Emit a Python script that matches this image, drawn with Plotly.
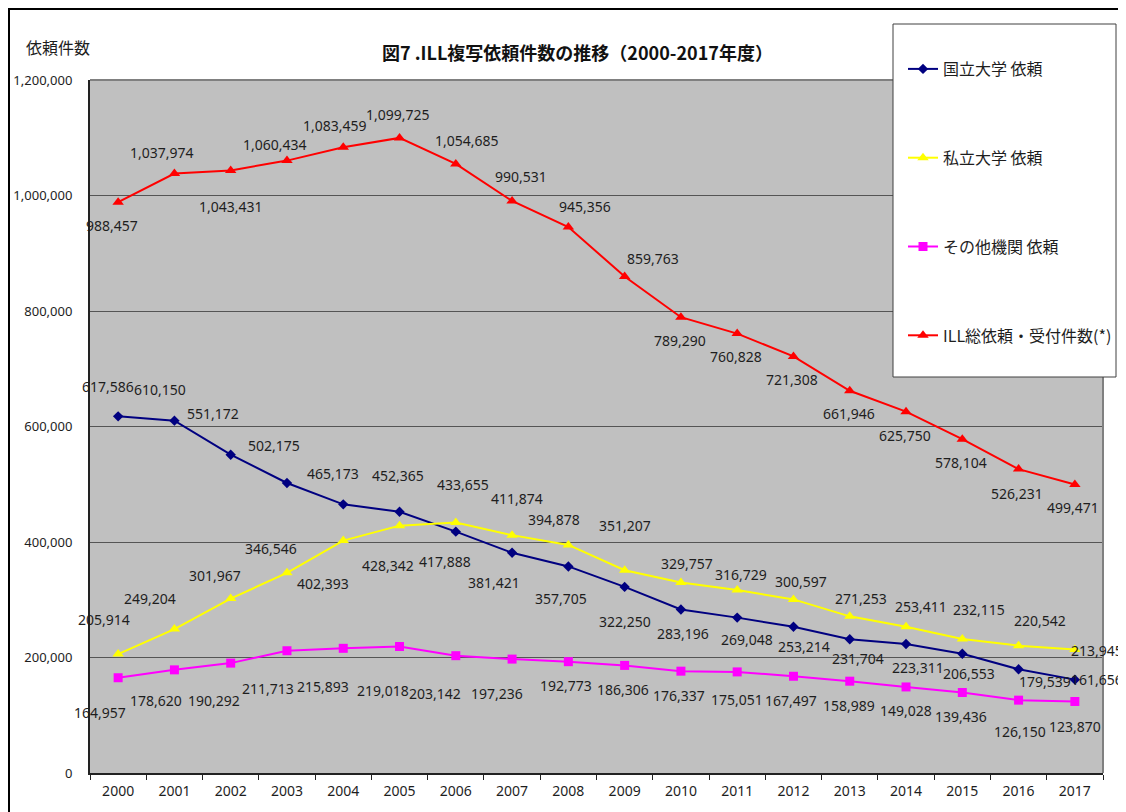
import plotly.graph_objects as go

# ---------------- data ----------------
years = ["2000", "2001", "2002", "2003", "2004", "2005", "2006", "2007", "2008",
         "2009", "2010", "2011", "2012", "2013", "2014", "2015", "2016", "2017"]

national = [617586, 610150, 551172, 502175, 465173, 452365, 417888, 381421, 357705,
            322250, 283196, 269048, 253214, 231704, 223311, 206553, 179539, 161656]
private = [205914, 249204, 301967, 346546, 402393, 428342, 433655, 411874, 394878,
           351207, 329757, 316729, 300597, 271253, 253411, 232115, 220542, 213945]
other = [164957, 178620, 190292, 211713, 215893, 219018, 203142, 197236, 192773,
         186306, 176337, 175051, 167497, 158989, 149028, 139436, 126150, 123870]
total = [988457, 1037974, 1043431, 1060434, 1083459, 1099725, 1054685, 990531, 945356,
         859763, 789290, 760828, 721308, 661946, 625750, 578104, 526231, 499471]

series_names = ["国立大学 依頼", "私立大学 依頼", "その他機関 依頼", "ILL総依頼・受付件数(*)"]

y_ticks = [0, 200000, 400000, 600000, 800000, 1000000, 1200000]

# ---------------- label offsets (pixels: dx right, dy down) ----------------
off_national = [(-10, -30), (-14, -31), (-18, -41), (-13, -37), (-10, -31), (-2, -36),
                (-11, 30), (-18, 30), (-7, 32), (0, 35), (2, 24), (10, 22),
                (11, 20), (8, 19), (12, 23), (7, 20), (26, 12), (22, 0)]
off_private = [(-14, -35), (-24, -31), (-16, -23), (-16, -24), (-20, 43), (-12, 40),
               (7, -38), (5, -37), (-14, -25), (0, -45), (6, -19), (4, -16),
               (8, -18), (11, -18), (15, -20), (17, -29), (21, -25), (22, 1)]
off_other = [(-18, 35), (-18, 31), (-17, 37), (-19, 38), (-20, 38), (-17, 44),
             (-21, 38), (-15, 34), (-2, 24), (-2, 24), (-2, 24), (0, 28),
             (-2, 24), (-1, 24), (0, 24), (-1, 24), (1, 31), (0, 25)]
off_total = [(-6, 23), (-12, -21), (0, 36), (-12, -16), (-8, -22), (-2, -23),
             (11, -23), (9, -24), (17, -21), (28, -18), (-1, 23), (-1, 23),
             (-1, 23), (-1, 23), (-1, 24), (-1, 23), (-2, 24), (-2, 23)]

# ---------------- styles ----------------
NUM_FONT = "Noto Sans, Noto Sans CJK JP, sans-serif"
JP_FONT = "Noto Sans CJK JP, Noto Sans, sans-serif"
TXT = "#1e1e1e"

# plot area in window pixels: x 90..1103, y 80..773 (page body has an 8px margin)
PX_L, PX_R, PX_T, PX_B = 90, 1103, 80, 773
PW, PH = PX_R - PX_L, PX_B - PX_T


def px_x(x):
    return (x - PX_L) / PW


def px_y(y):
    return (PX_B - y) / PH


styles = [
    dict(color="#000080", symbol="diamond", size=8),
    dict(color="#FFFF00", symbol="triangle-up", size=10),
    dict(color="#FF00FF", symbol="square", size=9),
    dict(color="#FF0000", symbol="triangle-up", size=10),
]
all_values = [national, private, other, total]
all_offsets = [off_national, off_private, off_other, off_total]

fig = go.Figure()
for name, vals, st in zip(series_names, all_values, styles):
    fig.add_trace(go.Scatter(
        x=years, y=vals, name=name, mode="lines+markers",
        legendgroup=name,
        line=dict(color=st["color"], width=2),
        marker=dict(color=st["color"], symbol=st["symbol"], size=st["size"],
                    line=dict(width=0)),
        cliponaxis=False,
    ))

annotations = []
for vals, offs in zip(all_values, all_offsets):
    for idx, (v, (dx, dy)) in enumerate(zip(vals, offs)):
        annotations.append(dict(
            x=idx, y=v, xref="x", yref="y", text=f"{v:,}", showarrow=False,
            xanchor="center", yanchor="middle",
            xshift=dx, yshift=-dy, font=dict(family=NUM_FONT, size=14, color=TXT),
        ))

# title and axis caption
annotations.append(dict(
    x=px_x(577), y=px_y(52), xref="paper", yref="paper", showarrow=False,
    xanchor="center", yanchor="middle",
    text="<b>図7 .ILL複写依頼件数の推移（2000-2017年度）</b>",
    font=dict(family=JP_FONT, size=18, color="#111111"),
))
annotations.append(dict(
    x=px_x(58), y=px_y(47), xref="paper", yref="paper", showarrow=False,
    xanchor="center", yanchor="middle",
    text="依頼件数", font=dict(family=JP_FONT, size=16, color=TXT),
))

shapes = [
    # top and right border of the plot area (gray)
    dict(type="line", xref="paper", yref="paper", x0=0, x1=1, y0=1, y1=1,
         line=dict(color="#808080", width=2), layer="above"),
    dict(type="line", xref="paper", yref="paper", x0=1, x1=1, y0=0, y1=1,
         line=dict(color="#808080", width=2), layer="above"),
    # legend box
    dict(type="rect", xref="paper", yref="paper",
         x0=px_x(893), x1=px_x(1116), y0=px_y(377), y1=px_y(24),
         fillcolor="white", line=dict(color="#404040", width=1), layer="above"),
    # outer chart frame
    dict(type="rect", xref="paper", yref="paper",
         x0=px_x(9), x1=px_x(1140), y0=px_y(830), y1=px_y(9),
         fillcolor="rgba(0,0,0,0)", line=dict(color="#000000", width=2), layer="above"),
]

fig.update_layout(
    width=1118, height=804,
    margin=dict(l=PX_L - 8, r=1126 - PX_R, t=PX_T - 8, b=812 - PX_B, autoexpand=False),
    paper_bgcolor="white", plot_bgcolor="#C0C0C0",
    font=dict(family=NUM_FONT, size=14, color=TXT),
    showlegend=True,
    legend=dict(
        x=px_x(903), y=px_y(52), xanchor="left", yanchor="top",
        bgcolor="rgba(0,0,0,0)", borderwidth=0,
        font=dict(family=JP_FONT, size=16, color=TXT),
        tracegroupgap=65, itemwidth=30,
    ),
    annotations=annotations,
    shapes=shapes,
    xaxis=dict(
        type="category", tickson="boundaries", ticks="outside", ticklen=5,
        tickcolor="#222222", showline=True, linecolor="#222222", linewidth=2,
        showgrid=False, tickfont=dict(family=NUM_FONT, size=14, color=TXT),
        range=[-0.5, 17.5], fixedrange=True, ticklabelstandoff=4, automargin=False,
    ),
    yaxis=dict(
        range=[0, 1200000], tickvals=y_ticks, tickformat=",d",
        showline=True, linecolor="#222222", linewidth=2,
        showgrid=True, gridcolor="#555555", gridwidth=1, zeroline=False,
        ticks="", ticklabelstandoff=13, automargin=False,
        tickfont=dict(family=NUM_FONT, size=13, color=TXT),
    ),
)

fig.write_html("out.html")
